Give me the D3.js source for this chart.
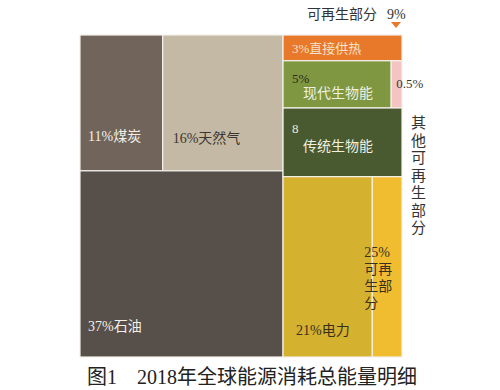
<!DOCTYPE html>
<html>
<head>
<meta charset="utf-8">
<script src="https://cdn.jsdelivr.net/npm/d3@7"></script>
<style>
  body { margin: 0; background: #fff; }
  text { font-family: "Liberation Serif", "Noto Sans CJK SC", serif; }
</style>
</head>
<body>
<script>
// share of global final energy use, 2018 (percent)
var fossilNames = ['煤炭', '天然气', '石油'];
var fossilValues = [11, 16, 37];
var renewNames = ['直接供热', '现代生物能', '其他', '传统生物能'];
var renewValues = [3, 5, 0.5, 8];
var elecName = '电力';
var elecValue = 21;
var elecRenewShare = 25; // % of electricity that is renewable
var renewSummary = 9;    // renewable part shown at top
var caption = '图1　2018年全球能源消耗总能量明细';

var colors = {
  '煤炭': '#71645a', '天然气': '#c3b9a4', '石油': '#57504a',
  '直接供热': '#e8782a', '现代生物能': '#7f9740', '其他': '#f2c5c2',
  '传统生物能': '#4a5a30', '电力非再生': '#d4b12f', '电力可再生': '#f1bd30'
};

var W = 500, H = 390;
var svg = d3.select('body').append('svg').attr('width', W).attr('height', H);

// hierarchy: two columns, each sliced into rows
var treeData = {
  name: 'root', children: [
    { name: 'fossil', children: [
      { name: 'top', children: [
        { name: fossilNames[0], value: fossilValues[0] },
        { name: fossilNames[1], value: fossilValues[1] }
      ] },
      { name: fossilNames[2], value: fossilValues[2] }
    ] },
    { name: 'other', children: [
      { name: renewNames[0], value: renewValues[0] },
      { name: 'bio', children: [
        { name: renewNames[1], value: renewValues[1] },
        { name: renewNames[2], value: renewValues[2] }
      ] },
      { name: renewNames[3], value: renewValues[3] },
      { name: elecName, children: [
        { name: '电力非再生', value: elecValue * (100 - elecRenewShare) / 100 },
        { name: '电力可再生', value: elecValue * elecRenewShare / 100 }
      ] }
    ] }
  ]
};

var root = d3.hierarchy(treeData).sum(function(d) { return d.value || 0; });
d3.treemap().size([322, 322]).tile(d3.treemapSliceDice)(root);

var g = svg.append('g').attr('transform', 'translate(80,35)');
var leaves = root.leaves();
g.selectAll('rect.cell').data(leaves).join('rect')
  .attr('class', 'cell')
  .attr('x', function(d) { return d.x0; })
  .attr('y', function(d) { return d.y0; })
  .attr('width', function(d) { return d.x1 - d.x0; })
  .attr('height', function(d) { return d.y1 - d.y0; })
  .attr('fill', function(d) { return colors[d.data.name]; })
  .attr('stroke', '#f4f1ea')
  .attr('stroke-width', 1.2);

function node(name) { return leaves.find(function(d) { return d.data.name === name; }); }
function label(n, dx, fromBottom, txt, fill, size) {
  g.append('text').attr('x', n.x0 + dx).attr('y', n.y1 - fromBottom)
    .attr('fill', fill).attr('font-size', size || 14).text(txt);
}

// fossil labels
var coal = node('煤炭'), gas = node('天然气'), oil = node('石油');
label(coal, 8, 30, fossilValues[0] + '%' + fossilNames[0], '#f3efe8');
label(gas, 10, 28, fossilValues[1] + '%' + fossilNames[1], '#3c3631');
label(oil, 8, 26, fossilValues[2] + '%' + fossilNames[2], '#f3efe8');

// renewable / other labels
var heat = node('直接供热'), modern = node('现代生物能'), trad = node('传统生物能');
label(heat, 9, 8, renewValues[0] + '%' + renewNames[0], '#f6e2cc', 13);
g.append('text').attr('x', modern.x0 + 9).attr('y', modern.y0 + 22)
  .attr('fill', '#2e2a1c').attr('font-size', 13).text(renewValues[1] + '%');
g.append('text').attr('x', modern.x0 + 20).attr('y', modern.y0 + 37)
  .attr('fill', '#eef0e0').attr('font-size', 14).text(renewNames[1]);
g.append('text').attr('x', trad.x0 + 9).attr('y', trad.y0 + 25)
  .attr('fill', '#e8e8d8').attr('font-size', 13).text(renewValues[3]);
g.append('text').attr('x', trad.x0 + 20).attr('y', trad.y0 + 43)
  .attr('fill', '#eef0e0').attr('font-size', 14).text(renewNames[3]);
var oth = node('其他');
g.append('text').attr('x', oth.x0 + 5).attr('y', oth.y0 + 27)
  .attr('fill', '#3a3530').attr('font-size', 13).text(renewValues[2] + '%');

var elec = node('电力非再生'), elecR = node('电力可再生');
label(elec, 13, 22, elecValue + '%' + elecName, '#3a3020');
var renLines = [elecRenewShare + '%', '可再', '生部', '分'];
g.selectAll('text.ren').data(renLines).join('text')
  .attr('class', 'ren')
  .attr('x', elecR.x0 - 8)
  .attr('y', function(d, i) { return elecR.y0 + 80 + i * 17; })
  .attr('fill', '#3a3020').attr('font-size', 14)
  .text(function(d) { return d; });

// right side vertical label
var otherRenLabel = '其他可再生部分'.split('');
svg.selectAll('text.vert').data(otherRenLabel).join('text')
  .attr('class', 'vert')
  .attr('x', 411)
  .attr('y', function(d, i) { return 128 + i * 17.5; })
  .attr('fill', '#333').attr('font-size', 15)
  .text(function(d) { return d; });

// top summary label with marker
svg.append('text').attr('x', 307).attr('y', 19).attr('fill', '#333').attr('font-size', 14)
  .text('可再生部分');
svg.append('text').attr('x', 387).attr('y', 19).attr('fill', '#333').attr('font-size', 14)
  .text(renewSummary + '%');
svg.append('path').attr('d', 'M391,22 L401,22 L396,28 Z').attr('fill', '#e8782a');

// caption
svg.append('text').attr('x', 252).attr('y', 384).attr('text-anchor', 'middle')
  .attr('fill', '#222').attr('font-size', 20).text(caption);
</script>
</body>
</html>
